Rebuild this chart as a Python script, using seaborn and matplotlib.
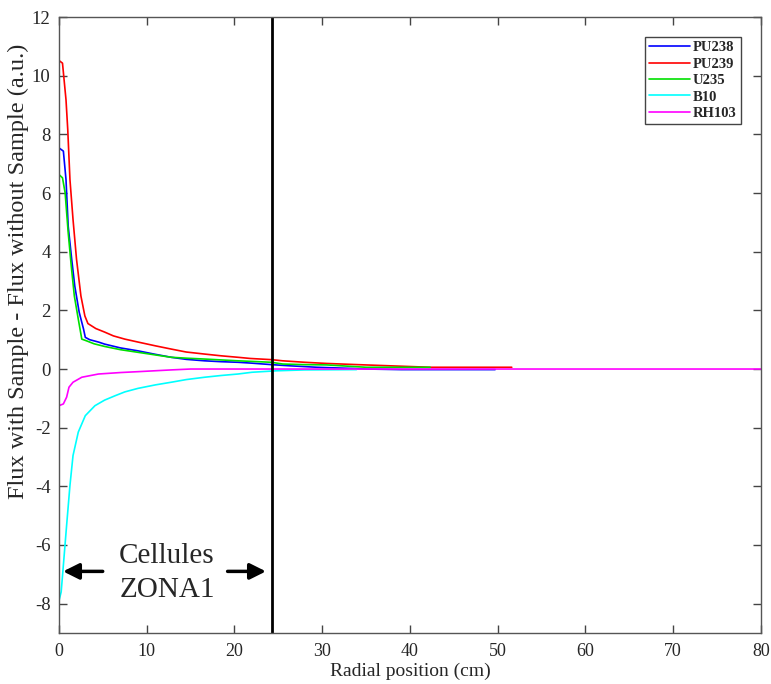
import matplotlib
matplotlib.use("Agg")
import matplotlib.pyplot as plt
import seaborn as sns

# Values (radial position in cm, flux difference in a.u.)
pu238_x = [0, 0.5, 0.8, 1.05, 1.45, 1.8, 2.3, 2.8, 3.0, 3.5, 4.5, 5.2, 7, 9, 11, 12.8,
           14.5, 16.6, 18.5, 20.4, 22, 24.2, 26.3, 29.4, 33.4, 35, 39, 49.7]
pu238_y = [7.54, 7.43, 6.46, 4.87, 3.74, 2.83, 1.94, 1.36, 1.08, 1.0, 0.92, 0.85, 0.72, 0.62,
           0.50, 0.40, 0.33, 0.28, 0.25, 0.23, 0.20, 0.15, 0.11, 0.06, 0.02, 0.0, -0.02, -0.02]

pu239_x = [0, 0.4, 0.8, 1.0, 1.25, 1.6, 2.0, 2.5, 2.95, 3.3, 4.2, 5.2, 6.2, 7.5, 9, 11, 12.8,
           14.5, 16.6, 18.5, 20.4, 21.8, 24.2, 25.5, 28, 30.5, 34, 37.7, 42.3, 51.6]
pu239_y = [10.52, 10.43, 9.18, 8.16, 6.46, 5.1, 3.74, 2.49, 1.81, 1.55, 1.38, 1.26, 1.13, 1.02,
           0.92, 0.79, 0.68, 0.58, 0.51, 0.45, 0.40, 0.36, 0.32, 0.28, 0.23, 0.19, 0.15, 0.11,
           0.06, 0.06]

u235_x = [0, 0.4, 0.7, 1.05, 1.4, 1.75, 2.2, 2.6, 3.15, 4, 5.2, 7, 9, 11, 12.8, 14.5, 16.6,
          18.5, 20.4, 22, 24.2, 25.5, 28, 30.5, 35, 42.3]
u235_y = [6.63, 6.52, 6.01, 4.65, 3.51, 2.49, 1.70, 1.02, 0.96, 0.86, 0.77, 0.66, 0.57, 0.48,
          0.40, 0.37, 0.34, 0.31, 0.28, 0.26, 0.23, 0.17, 0.15, 0.14, 0.06, 0.06]

b10_x = [0, 0.25, 0.5, 0.87, 1.25, 1.6, 2.2, 3.0, 4.1, 5.2, 6.4, 7.5, 9, 11, 12.8, 14.5, 16.6,
         18.5, 20.4, 22, 24.8, 28, 33.9]
b10_y = [-7.9, -7.6, -6.69, -5.33, -3.97, -2.95, -2.15, -1.59, -1.25, -1.06, -0.91, -0.78,
         -0.66, -0.54, -0.45, -0.36, -0.28, -0.22, -0.17, -0.11, -0.06, -0.03, -0.02]

rh103_x = [0, 0.5, 0.87, 1.14, 1.6, 2.6, 4.5, 7, 9, 12.8, 15, 80]
rh103_y = [-1.25, -1.19, -0.96, -0.62, -0.45, -0.28, -0.17, -0.12, -0.09, -0.03, 0.0, 0.0]

labels = ["PU238", "PU239", "U235", "B10", "RH103"]
colors = ["#0000ff", "#ff0000", "#00e000", "#00ffff", "#ff00ff"]
zona1_edge = 24.3

sns.set_style("ticks")
plt.rcParams['font.family'] = ['Liberation Serif', 'DejaVu Serif']
plt.rcParams['axes.unicode_minus'] = False

fig, ax = plt.subplots(figsize=(7.71, 6.84), dpi=100)
fig.subplots_adjust(left=0.0765, right=0.987, bottom=0.0746, top=0.975)

series = [(pu238_x, pu238_y), (pu239_x, pu239_y), (u235_x, u235_y),
          (b10_x, b10_y), (rh103_x, rh103_y)]
for (xs, ys), lab, col in zip(series, labels, colors):
    sns.lineplot(x=xs, y=ys, ax=ax, color=col, label=lab, linewidth=1.2,
                 sort=False, estimator=None)

# boundary of the ZONA1 cells
ax.axvline(zona1_edge, color="black", linewidth=2)

ax.set_xlim(0, 80)
ax.set_ylim(-9, 12)
ax.set_xticks(range(0, 81, 10))
ax.set_yticks(range(-8, 13, 2))
ax.tick_params(direction="in", length=6, width=1, color="#444444",
               top=True, right=True, pad=7)
ax.tick_params(axis="x", labelsize=13)
ax.tick_params(axis="y", labelsize=13.5, pad=6)
for sp in ax.spines.values():
    sp.set_visible(True)
    sp.set_color("#555555")
    sp.set_linewidth(1)

ax.set_xlabel("Radial position (cm)", fontsize=14, labelpad=2)
ax.set_ylabel("Flux with Sample - Flux without Sample (a.u.)", fontsize=17.5)
ax.yaxis.set_label_coords(-0.043, 0.588)

# "Cellules ZONA1" annotation with arrows
ax.text(12.3, -6.95, "Cellules\nZONA1", fontsize=21, ha="center", va="center",
        linespacing=1.4)
ax.annotate("", xy=(0.15, -6.9), xytext=(5.3, -6.9),
            arrowprops=dict(arrowstyle="-|>", color="black", lw=2.5, mutation_scale=24))
ax.annotate("", xy=(23.9, -6.9), xytext=(18.9, -6.9),
            arrowprops=dict(arrowstyle="-|>", color="black", lw=2.5, mutation_scale=24))

leg = ax.legend(loc="upper right", bbox_to_anchor=(0.982, 0.98), fancybox=False,
                edgecolor="#444444", framealpha=1, handlelength=2.8, handletextpad=0.2,
                labelspacing=0.22, borderpad=0.3, prop={"weight": "bold", "size": 10.5})
leg.get_frame().set_linewidth(1)

plt.savefig("out.png", dpi=100)
